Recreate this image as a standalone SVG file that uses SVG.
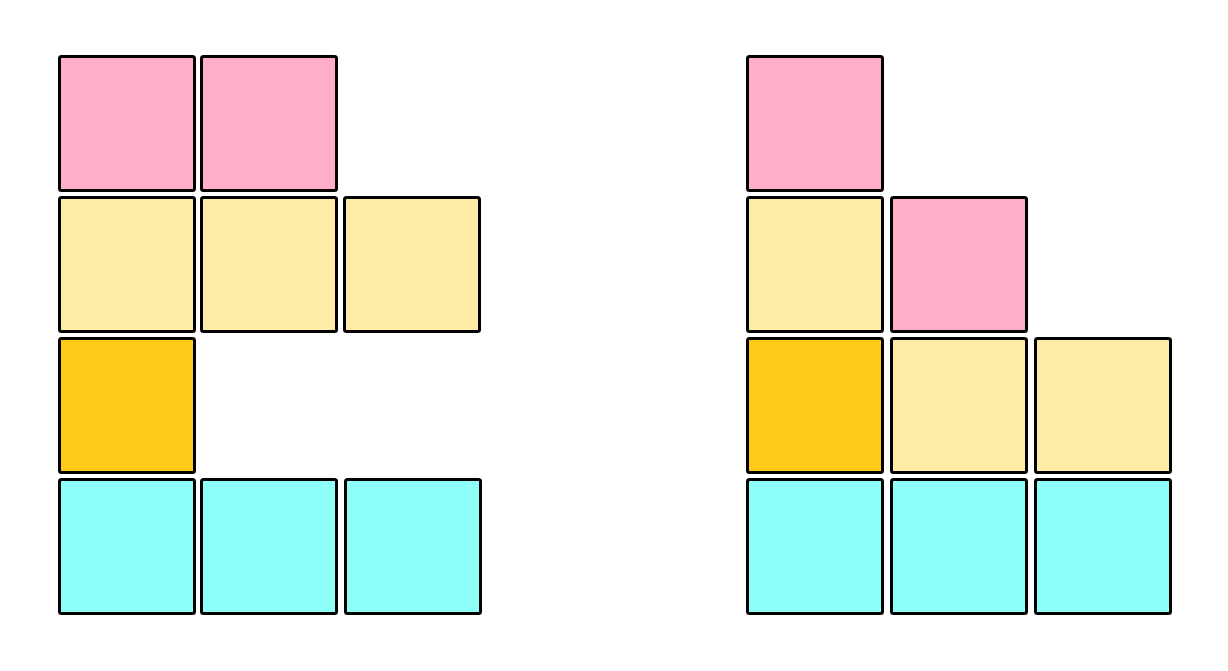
<svg xmlns="http://www.w3.org/2000/svg" width="1228" height="671" viewBox="0 0 1228 671">
<style>
rect.t{stroke:#000;stroke-width:3;rx:2;ry:2}
.p{fill:#FFADC8}.y{fill:#FDEBA7}.o{fill:#FFC918}.c{fill:#8EFFF8}
</style>
<rect width="1228" height="671" fill="#fff"/>
<g id="left">
<rect class="t p" x="59.5" y="56.5" width="135" height="134"/>
<rect class="t p" x="201.5" y="56.5" width="135" height="134"/>
<rect class="t y" x="59.5" y="197.5" width="135" height="134"/>
<rect class="t y" x="201.5" y="197.5" width="135" height="134"/>
<rect class="t y" x="344.5" y="197.5" width="135" height="134"/>
<rect class="t o" x="59.5" y="338.5" width="135" height="134"/>
<rect class="t c" x="59.5" y="479.5" width="135" height="134"/>
<rect class="t c" x="201.5" y="479.5" width="135" height="134"/>
<rect class="t c" x="345.5" y="479.5" width="135" height="134"/>
</g>
<g id="right">
<rect class="t p" x="747.5" y="56.5" width="135" height="134"/>
<rect class="t y" x="747.5" y="197.5" width="135" height="134"/>
<rect class="t p" x="891.5" y="197.5" width="135" height="134"/>
<rect class="t o" x="747.5" y="338.5" width="135" height="134"/>
<rect class="t y" x="891.5" y="338.5" width="135" height="134"/>
<rect class="t y" x="1035.5" y="338.5" width="135" height="134"/>
<rect class="t c" x="747.5" y="479.5" width="135" height="134"/>
<rect class="t c" x="891.5" y="479.5" width="135" height="134"/>
<rect class="t c" x="1035.5" y="479.5" width="135" height="134"/>
</g>
</svg>
